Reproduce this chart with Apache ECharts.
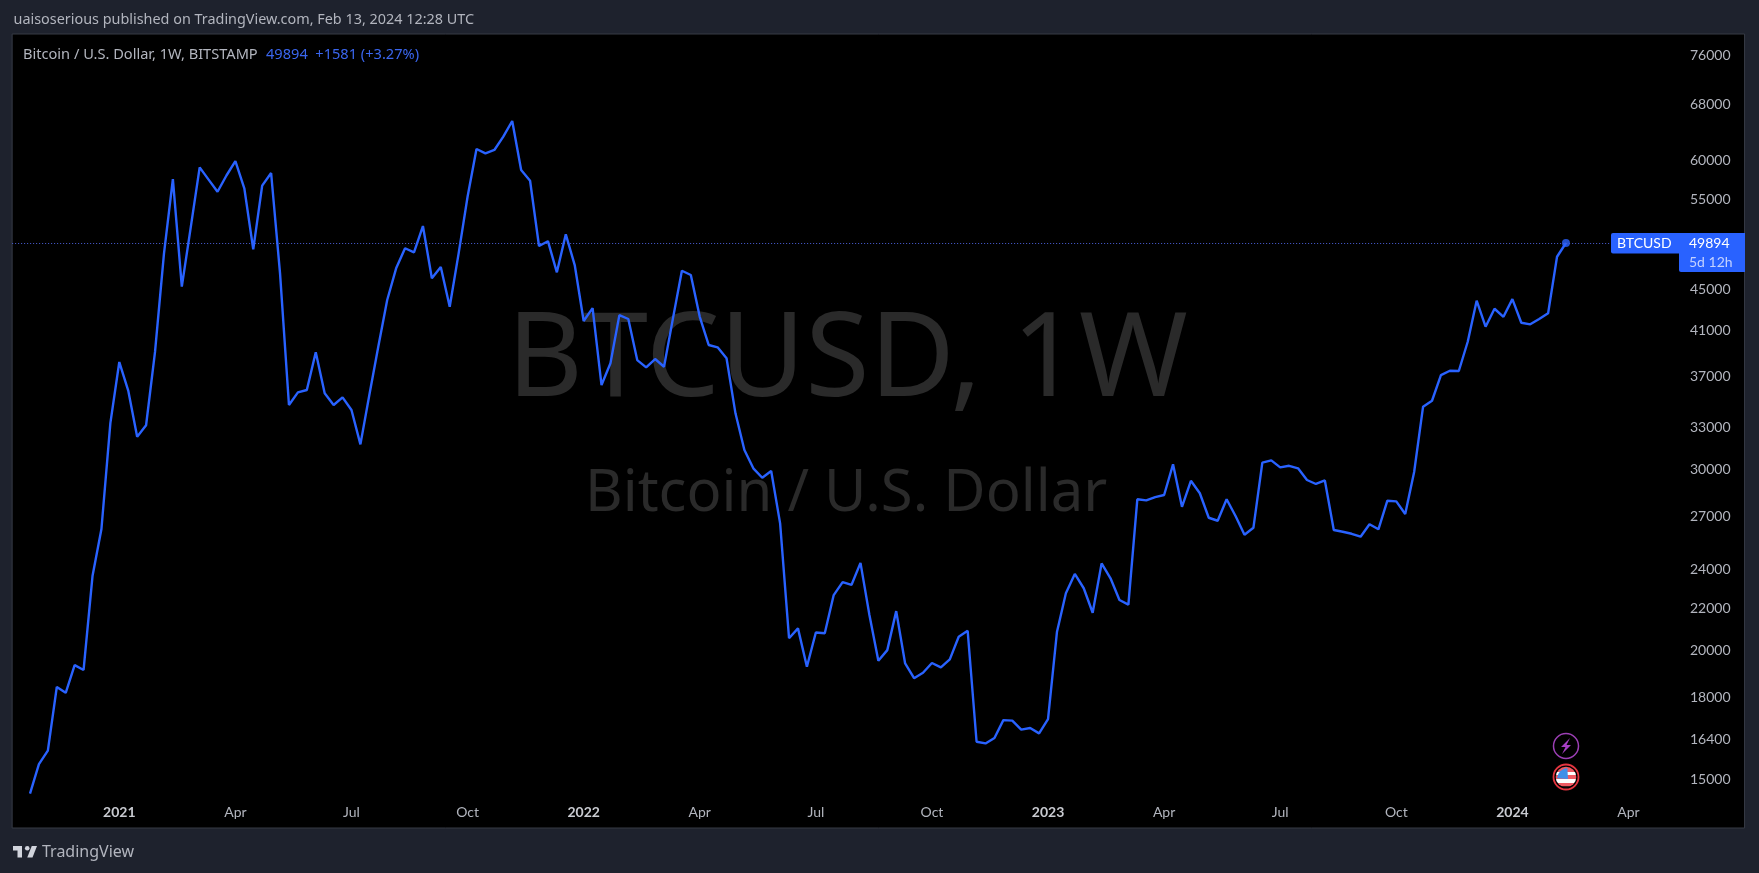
<!DOCTYPE html>
<html><head><meta charset="utf-8">
<style>html,body{margin:0;padding:0;background:#1e222d;overflow:hidden}#c{width:1759px;height:873px}</style>
<script src="https://cdn.jsdelivr.net/npm/echarts@6/dist/echarts.min.js"></script>
</head><body><div id="c"></div>
<script>
const closes = [14520,15515,15990,18440,18200,19370,19160,23650,26280,33325,38210,35840,32320,33160,39090,48690,57570,45255,51680,59120,57520,55970,58050,59940,56410,49195,56740,58375,46620,34700,35700,35890,39050,35620,34700,35300,34310,31770,35490,39540,43910,47140,49310,48860,51830,46100,47280,43250,48755,55350,61600,61010,61470,63330,65590,58770,57370,49560,50100,46720,50880,47490,41890,43125,36290,38100,42450,42080,38380,37760,38470,37810,42140,46890,46440,42290,39700,39490,38530,34060,31370,30110,29480,29930,26610,20570,21030,19300,20840,20800,22660,23330,23190,24360,21670,19560,20030,21860,19440,18810,19040,19460,19270,19620,20640,20920,16310,16250,16450,17120,17100,16760,16820,16620,17160,20860,22750,23760,23010,21780,24330,23530,22410,22180,28090,28020,28230,28360,30380,27620,29280,28470,26950,26770,28090,27055,25940,26350,30490,30650,30170,30280,30110,29330,29070,29300,26220,26120,26000,25830,26560,26260,28000,27960,27175,29860,34570,35035,37110,37470,37450,39990,43840,41360,43060,42290,44000,41730,41580,42076,42620,48380,49894];
const priceTicks = [76000,68000,60000,55000,45000,41000,37000,33000,30000,27000,24000,22000,20000,18000,16400,15000];
const timeTickDates = ['2021-01-04','2021-04-05','2021-07-05','2021-10-04','2022-01-03','2022-04-04','2022-07-04','2022-10-03','2023-01-02','2023-04-03','2023-07-03','2023-10-02','2024-01-01','2024-04-01'];
const timeTickLabels = ['2021','Apr','Jul','Oct','2022','Apr','Jul','Oct','2023','Apr','Jul','Oct','2024','Apr'];
const lastPrice = 49894;
const firstWeek = Date.UTC(2020,9,12), weekCount = 195, leadingWeeks = 2;
const FONT = 'Lato', TEXTFONT = '"Noto Sans"';

const weeks = [];
for (let i=0;i<weekCount;i++) weeks.push(new Date(firstWeek+i*7*864e5).toISOString().slice(0,10));
const lineData = weeks.map((d,i)=>{const v=closes[i-leadingWeeks];return v===undefined?null:v;});
const lastWeek = weeks[leadingWeeks+closes.length-1];
const labelOf = Object.fromEntries(timeTickDates.map((d,i)=>[d,timeTickLabels[i]]));

const chart = echarts.init(document.getElementById('c'),null,{renderer:'canvas'});
const BLUE='#2962ff', GREY='#b2b5be';
const lx=x=>13+(x-2)*.75, ly=y=>846+(y-6)*.77;

function statics(){
  const cx=1566, cy1=746, cy2=777;
  return [
    {type:'text',z:1,left:507,top:304,silent:true,style:{text:'BTCUSD, 1W',font:'117px '+TEXTFONT,fill:'#2a2a2a'}},
    {type:'text',z:1,left:585,top:465,silent:true,style:{text:'Bitcoin / U.S. Dollar',font:'58px '+TEXTFONT,fill:'#2a2a2a'}},
    {type:'text',z:10,left:13.5,top:13,silent:true,style:{text:'uaisoserious published on TradingView.com, Feb 13, 2024 12:28 UTC',font:'14.4px '+TEXTFONT,fill:GREY}},
    {type:'text',z:10,left:23,top:47,silent:true,style:{text:'Bitcoin / U.S. Dollar, 1W, BITSTAMP',font:'14.6px '+TEXTFONT,fill:GREY}},
    {type:'text',z:10,left:266,top:47,silent:true,style:{text:'49894  +1581 (+3.27%)',font:'14.6px '+TEXTFONT,fill:'#3a66ee'}},
    {type:'polygon',z:10,silent:true,shape:{points:[[2,6],[14,6],[14,21],[8,21],[8,12],[2,12]].map(p=>[lx(p[0]),ly(p[1])])},style:{fill:'#d1d4dc'}},
    {type:'polygon',z:10,silent:true,shape:{points:[[28,21],[21,21],[27,6],[34,6]].map(p=>[lx(p[0]),ly(p[1])])},style:{fill:'#d1d4dc'}},
    {type:'circle',z:10,silent:true,shape:{cx:lx(21),cy:ly(9),r:2.3},style:{fill:'#d1d4dc'}},
    {type:'text',z:10,left:42,top:844,silent:true,style:{text:'TradingView',font:'16px '+TEXTFONT,fill:GREY}},
    {type:'circle',z:10,silent:true,shape:{cx:cx,cy:cy1,r:12.5},style:{fill:'#000',stroke:'#9c3fb5',lineWidth:1.5}},
    {type:'polygon',z:10,silent:true,shape:{points:[[cx+4,cy1-8],[cx-5,cy1+1],[cx-0.5,cy1+1],[cx-4,cy1+8],[cx+5,cy1-1],[cx+0.5,cy1-1]]},style:{fill:'#a63fc4'}},
    {type:'circle',z:10,silent:true,shape:{cx:cx,cy:cy2,r:12.5},style:{fill:'#000',stroke:'#e53540',lineWidth:1.8}},
    {type:'circle',z:10,silent:true,shape:{cx:cx,cy:cy2,r:10.3},style:{fill:new echarts.graphic.LinearGradient(0,0,0,1,[
      {offset:0,color:'#ef5a63'},{offset:.26,color:'#ef5a63'},{offset:.26,color:'#ffffff'},{offset:.42,color:'#ffffff'},
      {offset:.42,color:'#ef5a63'},{offset:.6,color:'#ef5a63'},{offset:.6,color:'#ffffff'},{offset:.8,color:'#ffffff'},
      {offset:.8,color:'#ef5a63'},{offset:.92,color:'#ef5a63'},{offset:.92,color:'#3a1518'},{offset:1,color:'#3a1518'}])}},
    {type:'sector',z:10,silent:true,shape:{cx:cx+2,cy:cy2+2,r:11,startAngle:Math.PI*1.02,endAngle:Math.PI*1.48},style:{fill:'#3f8fe8'}}
  ];
}
chart.setOption({
  animation:false,
  backgroundColor:'#1e222d',
  grid:{left:12.14,right:14.44,top:34,bottom:45,show:true,backgroundColor:'#000000',borderColor:'#363a45',borderWidth:1},
  xAxis:{type:'category',boundaryGap:false,data:weeks,axisLine:{show:false},axisTick:{show:false},splitLine:{show:false},
    axisLabel:{inside:true,margin:9,interval:(i,v)=>v in labelOf,hideOverlap:false,
      formatter:v=>{const t=labelOf[v]||'';return /^\d/.test(t)?`{y|${t}}`:t;},
      fontFamily:FONT,fontSize:14,color:GREY,rich:{y:{fontFamily:FONT,fontSize:14,fontWeight:'bold',color:'#c8cad0'}}}},
  yAxis:{type:'log',logBase:10,position:'right',min:13443,max:79720,axisLine:{show:false},axisTick:{show:false},splitLine:{show:false},
    axisLabel:{inside:true,margin:14,customValues:priceTicks,fontFamily:FONT,fontSize:14,color:GREY,formatter:v=>String(Math.round(v))}},
  series:[
    {type:'line',data:lineData,showSymbol:false,connectNulls:false,lineStyle:{color:BLUE,width:2.4},itemStyle:{color:BLUE},z:3,
     markLine:{silent:true,symbol:'none',label:{show:false},lineStyle:{color:'#4a5fd8',type:[1,2],width:1},data:[{yAxis:lastPrice}]}},
    {type:'scatter',data:[[lastWeek,lastPrice]],symbolSize:8,itemStyle:{color:BLUE},z:4,silent:true}
  ],
  graphic:{elements:statics()}
});
const y = chart.convertToPixel({yAxisIndex:0},lastPrice);
const tagFont='14px '+FONT;
chart.setOption({graphic:{elements:statics().concat([
  {type:'rect',z:10,silent:true,shape:{x:1611,y:y-10,width:134,height:20.5,r:[2,0,0,2]},style:{fill:BLUE}},
  {type:'rect',z:10,silent:true,shape:{x:1679,y:y+10,width:66,height:19,r:[0,0,0,2]},style:{fill:BLUE}},
  {type:'text',z:11,silent:true,left:1617,top:y-7,style:{text:'BTCUSD',font:tagFont,fill:'#fff'}},
  {type:'text',z:11,silent:true,left:1689,top:y-7,style:{text:String(lastPrice),font:tagFont,fill:'#fff'}},
  {type:'text',z:11,silent:true,left:1689,top:y+12,style:{text:'5d 12h',font:tagFont,fill:'#c4d2ff'}}
])}});
</script></body></html>
